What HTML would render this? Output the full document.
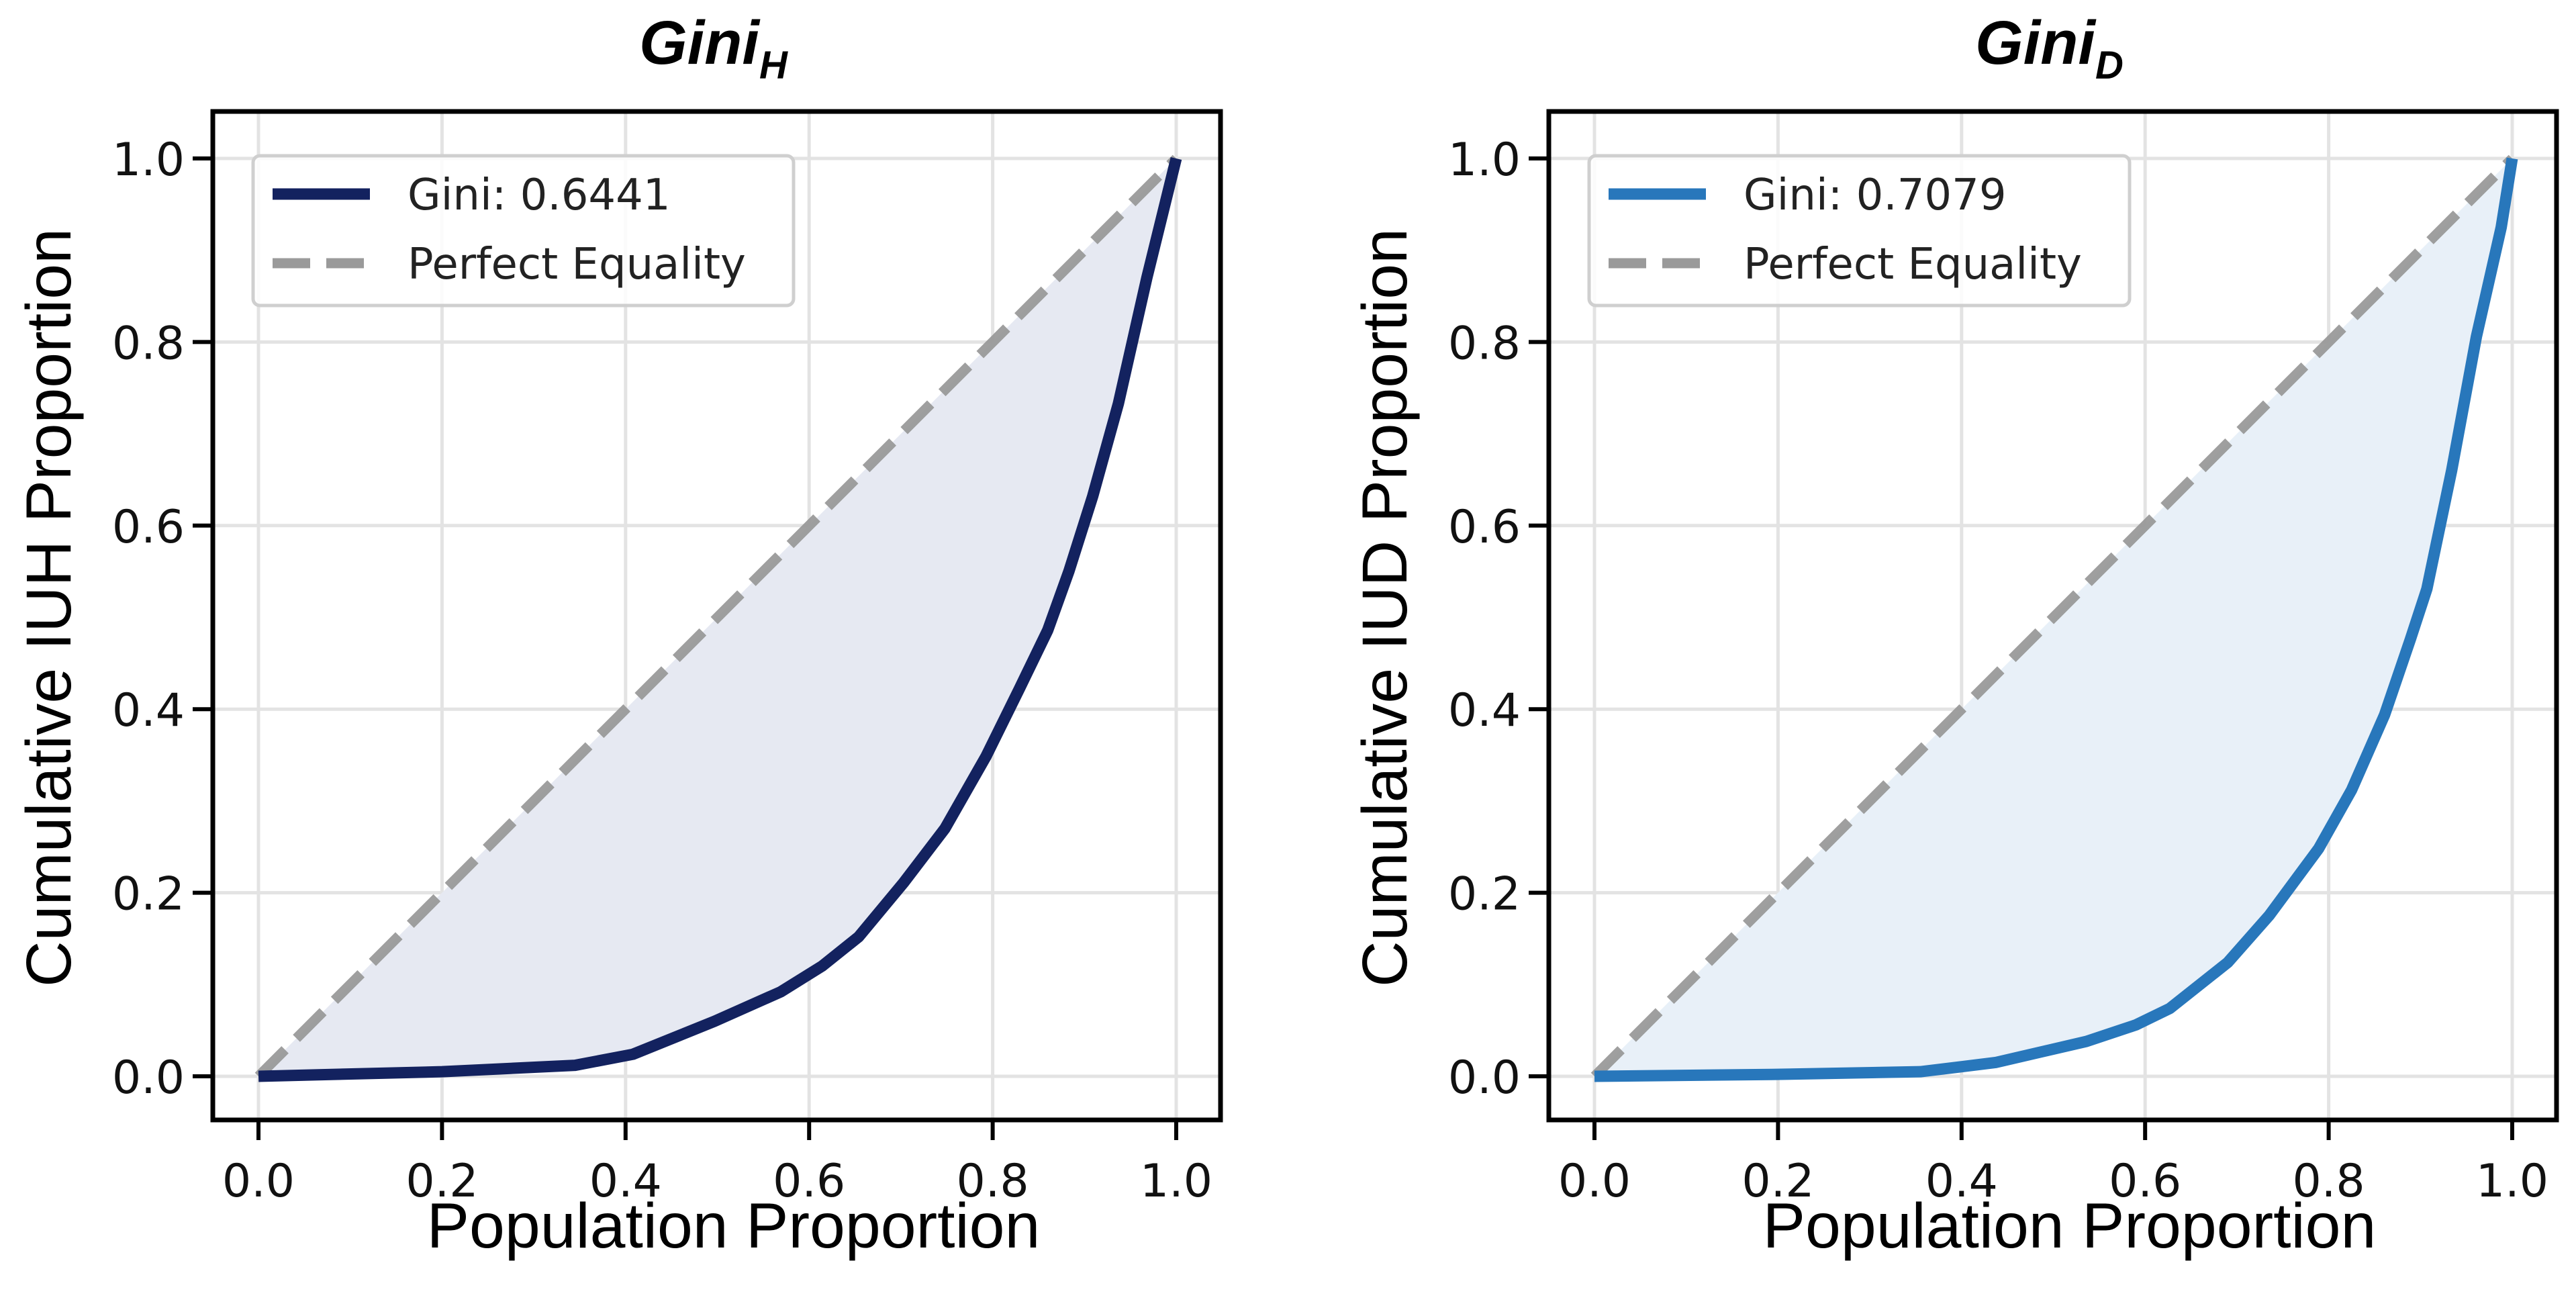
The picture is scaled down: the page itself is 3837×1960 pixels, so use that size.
<!DOCTYPE html>
<html><head><meta charset="utf-8">
<style>
html,body{margin:0;padding:0;background:#fff;}
svg{display:block;font-family:"Liberation Sans","DejaVu Sans",sans-serif;}
.dv{font-family:"DejaVu Sans","Liberation Sans",sans-serif;}
</style></head>
<body>
<svg id="fig" width="3837" height="1960" viewBox="0 0 3837 1960" xmlns="http://www.w3.org/2000/svg"></svg>
<script>
const tickValues = [0, 0.2, 0.4, 0.6, 0.8, 1.0];
const tickLabels = ["0.0","0.2","0.4","0.6","0.8","1.0"];
const hX = [0, 0.2, 0.345, 0.408, 0.497, 0.569, 0.614, 0.654, 0.703, 0.748, 0.793, 0.829, 0.86, 0.883, 0.909, 0.937, 0.968, 1.0];
const hY = [0, 0.005, 0.012, 0.024, 0.06, 0.092, 0.12, 0.152, 0.211, 0.27, 0.349, 0.422, 0.486, 0.55, 0.632, 0.733, 0.87, 1.0];
const dX = [0, 0.193, 0.355, 0.437, 0.536, 0.59, 0.627, 0.69, 0.735, 0.789, 0.825, 0.861, 0.889, 0.907, 0.934, 0.961, 0.988, 1.0];
const dY = [0, 0.002, 0.005, 0.015, 0.038, 0.056, 0.074, 0.124, 0.175, 0.248, 0.312, 0.394, 0.476, 0.531, 0.66, 0.806, 0.925, 1.0];
const giniLabels = ["Gini: 0.6441", "Gini: 0.7079"];

const NS = "http://www.w3.org/2000/svg";
const fig = document.getElementById('fig');
function mk(tag, attrs, parent, text){
  const e = document.createElementNS(NS, tag);
  for (const k in attrs) e.setAttribute(k, attrs[k]);
  if (text !== undefined) e.textContent = text;
  (parent||fig).appendChild(e);
  return e;
}

function panel(cfg){
  const g = mk('g', {});
  
  
  const L = cfg.left, R = L + 1501, T = 166, B = 1668;
  const x0 = L + 68, x1 = L + 1435, y0 = 1603, y1 = 236;
  const sx = v => x0 + v * (x1 - x0);
  const sy = v => y0 - v * (y0 - y1);
  tickValues.forEach((v, i) => {
    const gv = mk('line', {x1: sx(v), x2: sx(v), y1: T, y2: B, stroke: '#e3e3e3', 'stroke-width': 5}, g);
    
    
    const gh = mk('line', {x1: L, x2: R, y1: sy(v), y2: sy(v), stroke: '#e3e3e3', 'stroke-width': 5}, g);
    
    
  });
  let d = 'M' + sx(0) + ',' + sy(0) + ' L' + sx(1) + ',' + sy(1);
  for (let i = cfg.xs.length - 1; i >= 0; i--) d += ' L' + sx(cfg.xs[i]) + ',' + sy(cfg.ys[i]);
  d += ' Z';
  const fill = mk('path', {d: d, fill: cfg.fill}, g);
  
  
  const diag = mk('line', {x1: sx(0), y1: sy(0), x2: sx(1), y2: sy(1), stroke: '#9a9a9a', 'stroke-width': 15, 'stroke-dasharray': '56 24', opacity: 0.95}, g);
  
  
  const pts = cfg.xs.map((x, i) => sx(x) + ',' + sy(cfg.ys[i])).join(' ');
  const curve = mk('polyline', {points: pts, fill: 'none', stroke: cfg.color, 'stroke-width': 17, 'stroke-linejoin': 'round'}, g);
  
  
  const fr = mk('rect', {x: L, y: T, width: R - L, height: B - T, fill: 'none', stroke: '#000', 'stroke-width': 7}, g);
  
  
  tickValues.forEach((v, i) => {
    mk('line', {x1: sx(v), x2: sx(v), y1: B, y2: B + 30, stroke: '#000', 'stroke-width': 6}, g);
    const tx = mk('text', {x: sx(v), y: 1782, 'font-size': 68, 'text-anchor': 'middle', fill: '#111', class: 'dv'}, g, tickLabels[i]);
    
    
    mk('line', {x1: L - 30, x2: L, y1: sy(v), y2: sy(v), stroke: '#000', 'stroke-width': 6}, g);
    const ty = mk('text', {x: L - 42, y: sy(v) + 25, 'font-size': 68, 'text-anchor': 'end', fill: '#111', class: 'dv'}, g, tickLabels[i]);
    
    
  });
  const xl = mk('text', {x: (L + R) / 2 + 25, y: 1858, 'font-size': 95, 'text-anchor': 'middle', fill: '#000'}, g, 'Population Proportion');
  
  
  const yl = mk('text', {x: 0, y: 0, 'font-size': 95, 'text-anchor': 'middle', fill: '#000', transform: 'translate(' + (L - 212) + ',' + ((T + B) / 2 - 12) + ') rotate(-90)'}, g, cfg.ylabel);
  
  
  const tt = mk('text', {x: (L + R) / 2 - 5, y: 95, 'font-size': 92, 'font-weight': 'bold', 'font-style': 'italic', 'text-anchor': 'middle', fill: '#000'}, g);
  
  
  mk('tspan', {}, tt, 'Gini');
  mk('tspan', {'font-size': 58, dy: 22}, tt, cfg.sub);
  const lg = mk('g', {}, g);
  
  
  mk('rect', {x: L + 60, y: 232, width: 805, height: 223, rx: 10, fill: 'rgba(255,255,255,0.85)', stroke: '#cfcfcf', 'stroke-width': 5}, lg);
  const e1 = mk('g', {}, lg);
  
  
  mk('line', {x1: L + 89, x2: L + 234, y1: 289, y2: 289, stroke: cfg.color, 'stroke-width': 17}, e1);
  mk('text', {x: L + 290, y: 312, 'font-size': 64, fill: '#222', class: 'dv'}, e1, cfg.gini);
  const e2 = mk('g', {}, lg);
  
  
  mk('line', {x1: L + 89, x2: L + 234, y1: 392, y2: 392, stroke: '#9a9a9a', 'stroke-width': 15, 'stroke-dasharray': '56 24'}, e2);
  mk('text', {x: L + 290, y: 415, 'font-size': 64, fill: '#222', class: 'dv'}, e2, 'Perfect Equality');
}

panel({name: 'panel-gini-h', left: 317, xs: hX, ys: hY, color: '#13225f', fill: '#e6e9f2', ylabel: 'Cumulative IUH Proportion', sub: 'H', gini: giniLabels[0]});
panel({name: 'panel-gini-d', left: 2307, xs: dX, ys: dY, color: '#2877bb', fill: '#e8f0f8', ylabel: 'Cumulative IUD Proportion', sub: 'D', gini: giniLabels[1]});
</script>
</body></html>
